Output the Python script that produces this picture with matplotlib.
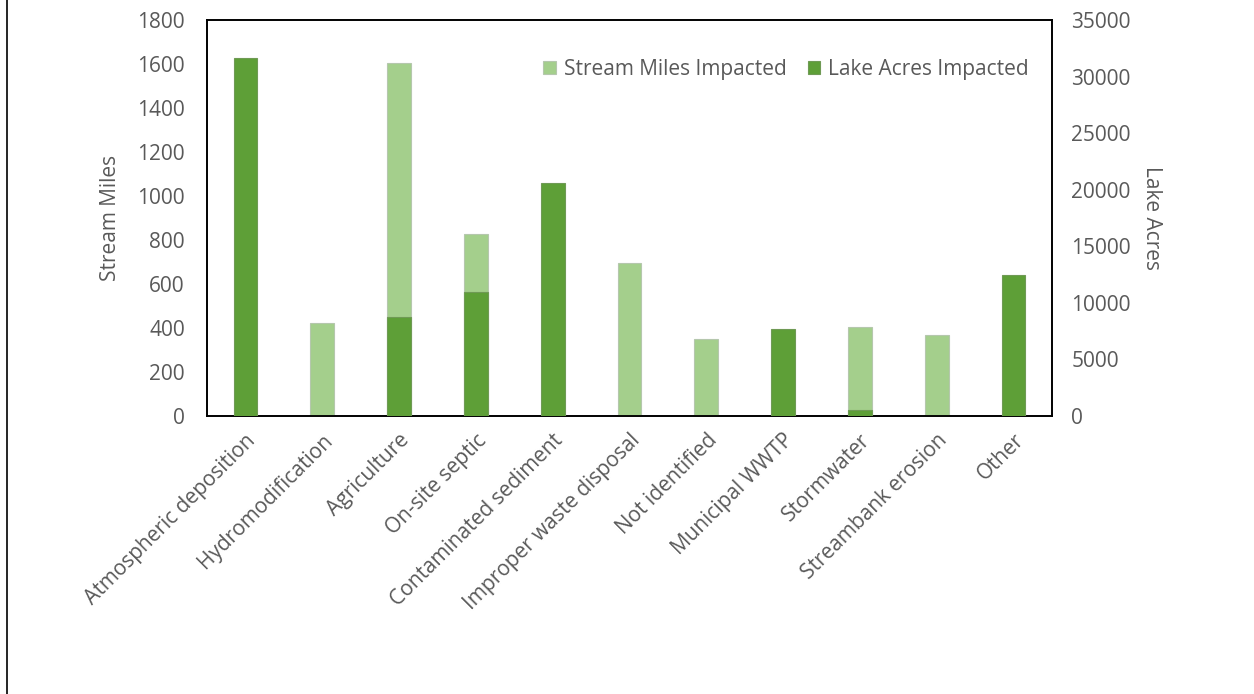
import matplotlib
matplotlib.use("Agg")
import matplotlib.pyplot as plt
import numpy as np
from matplotlib.lines import Line2D

plt.rcParams['font.family'] = ['Open Sans', 'DejaVu Sans']

categories = ["Atmospheric deposition", "Hydromodification", "Agriculture",
              "On-site septic", "Contaminated sediment", "Improper waste disposal",
              "Not identified", "Municipal WWTP", "Stormwater",
              "Streambank erosion", "Other"]
stream_miles = [0, 425, 1605, 827, 0, 695, 350, 0, 405, 368, 0]
lake_acres = [31650, 0, 8750, 10950, 20600, 0, 0, 7700, 530, 0, 12470]

light = "#a4cf8c"
dark = "#5e9f37"
text_col = "#595959"
fs = 15

fig = plt.figure(figsize=(12.54, 6.94), dpi=100)
ax = fig.add_axes([207/1254, 1 - 416/694, (1052-207)/1254, (416-20)/694])
ax2 = ax.twinx()

x = np.arange(len(categories))
w = 0.31
ax.bar(x, stream_miles, width=w, color=light, edgecolor="#b5c7ad", linewidth=0.8,
       label="Stream Miles Impacted", zorder=2)
ax2.bar(x, lake_acres, width=w, color=dark, edgecolor="#6f9a55", linewidth=0.8,
        label="Lake Acres Impacted", zorder=3)

ax.set_xlim(-0.5, len(categories) - 0.5)
ax.set_ylim(0, 1800)
ax2.set_ylim(0, 35000)
ax.set_yticks(np.arange(0, 1801, 200))
ax2.set_yticks(np.arange(0, 35001, 5000))

ax.set_xticks(x)
ax.set_xticklabels(categories, rotation=45, ha="right", rotation_mode="anchor",
                   fontsize=fs, color=text_col)
ax.tick_params(axis="x", length=0, pad=10)
ax.tick_params(axis="y", length=0, labelsize=fs, labelcolor=text_col, pad=16)
ax2.tick_params(axis="y", length=0, labelsize=fs, labelcolor=text_col, pad=14)

for a in (ax, ax2):
    for s in a.spines.values():
        s.set_color("black")
        s.set_linewidth(1.2)

ax.set_ylabel("Stream Miles", fontsize=fs, color=text_col)
ax.yaxis.set_label_coords(-0.102, 0.5)
ax2.set_ylabel("Lake Acres", fontsize=fs, color=text_col, rotation=270,
               ha="center", va="center")
ax2.yaxis.set_label_coords(1.118, 0.5)

h1, l1 = ax.get_legend_handles_labels()
h2, l2 = ax2.get_legend_handles_labels()
leg = ax2.legend(h1 + h2, l1 + l2, loc="upper right", ncol=2, frameon=False,
                 fontsize=fs, handlelength=0.6, handleheight=0.6, handletextpad=0.4,
                 columnspacing=1.0, bbox_to_anchor=(0.995, 0.95))
for t in leg.get_texts():
    t.set_color(text_col)

fig.add_artist(Line2D([7/1254, 7/1254], [0, 1], transform=fig.transFigure,
                      color="black", linewidth=1.2))

fig.savefig("out.png", dpi=100)
